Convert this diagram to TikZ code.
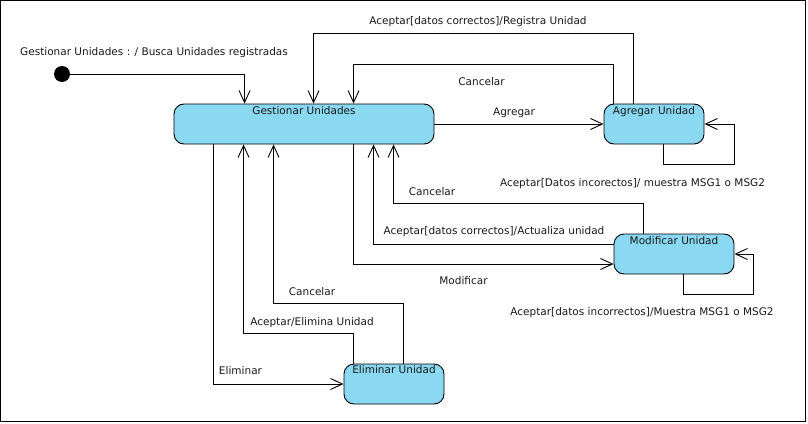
\documentclass[tikz,border=0pt]{standalone}
\usepackage{fontspec}
\setmainfont{DejaVu Sans}
\usetikzlibrary{arrows.meta,calc}
\definecolor{stfill}{RGB}{138,216,242}
\begin{document}
\begin{tikzpicture}[x=1pt,y=-1pt,
  every node/.style={font=\fontsize{10.5}{12}\selectfont, text=black!90},
  stbox/.style={draw, line width=0.9pt, fill=stfill, rounded corners=10pt, inner sep=0pt},
  arr/.style={draw, line width=0.9pt, -{Straight Barb[length=12pt,width=11pt,line width=0.9pt]}},
  ln/.style={draw, line width=0.9pt},
  lab/.style={anchor=base, inner sep=0pt}]
\useasboundingbox (0,0) rectangle (808,423);
\draw[line width=1.3pt] (0.6,0.6) rectangle (805.2,421.6);

% states
\node[stbox, minimum width=260pt, minimum height=40pt] (gest) at (304,124) {};
\node[stbox, minimum width=100pt, minimum height=40pt] (agr) at (654,124) {};
\node[stbox, minimum width=120pt, minimum height=40pt] (mod) at (674,254) {};
\node[stbox, minimum width=100pt, minimum height=40pt] (eli) at (394,384) {};
\node[lab] (gestT) at ([yshift=-11pt]gest.north) {Gestionar Unidades};
\node[lab] (agrT) at ([yshift=-11pt]agr.north) {Agregar Unidad};
\node[lab] (modT) at ([yshift=-11pt]mod.north) {Modificar Unidad};
\node[lab] (eliT) at ([yshift=-10pt]eli.north) {Eliminar Unidad};

% initial
\node[circle, fill=black, minimum size=16pt, inner sep=0pt] (init) at (62,74) {};
\draw[arr] (init) -| ($(gest.north west)+(71,0)$);
\node[lab] (l0) at (154,55) {Gestionar Unidades : / Busca Unidades registradas};

% Agregar
\draw[arr] (gest.east) -- (agr.west);
\node[lab] (l1) at (514,115) {Agregar};
\draw[arr] ($(agr.north west)+(30,0)$) -- ++(0,-70) -| ($(gest.north west)+(140,0)$);
\node[lab] (l2) at (478,24) {Aceptar[datos correctos]/Registra Unidad};
\draw[arr] ($(agr.north west)+(10,0)$) -- ++(0,-39) -| ($(gest.north west)+(180,0)$);
\node[lab] (l3) at (481.5,85) {Cancelar};
\draw[arr] ($(agr.south west)+(60,0)$) -- ++(0,20) -- ++(71,0) |- (agr.east);
\node[lab] (l4) at (632.5,186) {Aceptar[Datos incorectos]/ muestra MSG1 o MSG2};

% Modificar
\draw[arr] ($(gest.south west)+(180,0)$) |- ($(mod.west)+(0,10)$);
\node[lab] (l5) at (463.5,284) {Modificar};
\draw[arr] ($(mod.west)+(0,-10)$) -| ($(gest.south west)+(200,0)$);
\node[lab] (l6) at (494,234) {Aceptar[datos correctos]/Actualiza unidad};
\draw[arr] ($(mod.north west)+(30,0)$) -- ++(0,-30) -| ($(gest.south west)+(220,0)$);
\node[lab] (l7) at (432,195) {Cancelar};
\draw[arr] ($(mod.south west)+(70,0)$) -- ++(0,20) -- ++(70,0) |- (mod.east);
\node[lab] (l8) at (642,315) {Aceptar[datos incorrectos]/Muestra MSG1 o MSG2};

% Eliminar
\draw[arr] ($(gest.south west)+(40,0)$) |- (eli.west);
\node[lab] (l9) at (240.5,374) {Eliminar};
\draw[arr] ($(eli.north west)+(10,0)$) -- ++(0,-30) -| ($(gest.south west)+(70,0)$);
\node[lab] (l10) at (312,325) {Aceptar/Elimina Unidad};
\draw[arr] ($(eli.north west)+(60,0)$) -- ++(0,-60) -| ($(gest.south west)+(100,0)$);
\node[lab] (l11) at (312,295) {Cancelar};
\end{tikzpicture}
\end{document}
